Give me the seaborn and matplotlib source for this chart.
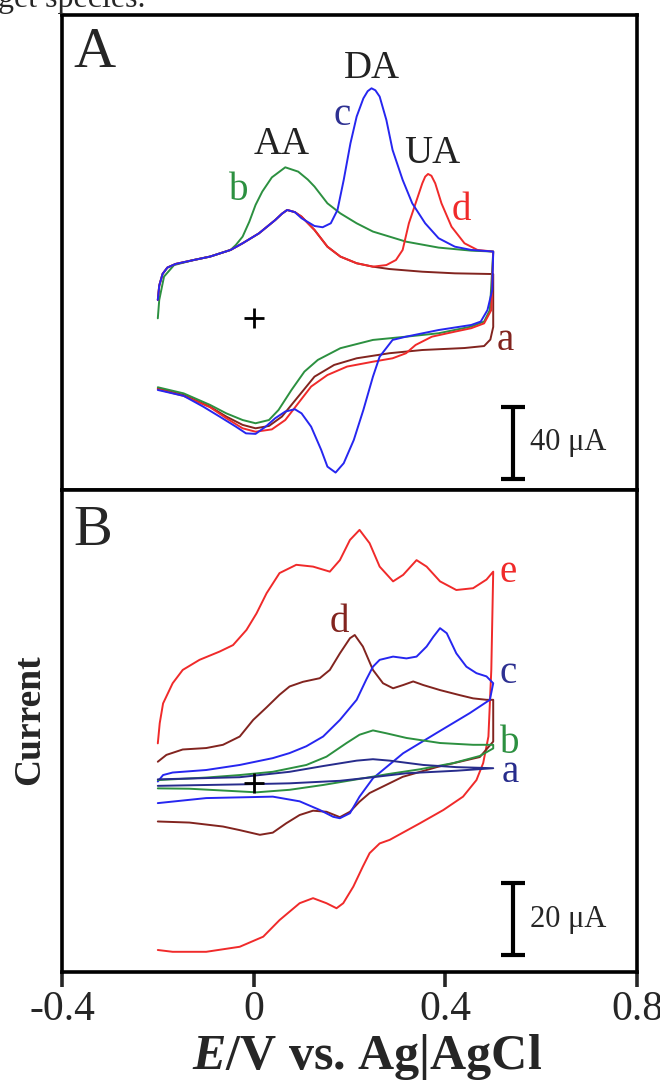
import pandas as pd
import seaborn as sns
import matplotlib
matplotlib.use('Agg')
import matplotlib.pyplot as plt

# ---- Panel A: CVs, potential E (V) and current I (uA); forward scan then reverse scan ----
A_a_E = [-0.200, -0.197, -0.190, -0.180, -0.163, -0.125, -0.091, -0.048, -0.023, 0.011, 0.045, 0.059, 0.070, 0.086,
         0.100, 0.127, 0.154, 0.181, 0.215, 0.249, 0.283, 0.352, 0.420, 0.500,
         0.500, 0.494, 0.481, 0.440, 0.352, 0.283, 0.215, 0.168, 0.127, 0.093, 0.059, 0.032, 0.004, -0.023, -0.057,
         -0.091, -0.146, -0.200]
A_a_I = [10.0, 18.0, 24.5, 28.0, 30.0, 32.2, 34.1, 37.8, 41.5, 47.0, 54.4, 57.9, 60.0, 58.8,
         56.3, 48.9, 39.6, 34.1, 30.4, 28.5, 27.2, 25.7, 24.8, 24.4,
         -5.0, -12.0, -15.6, -16.7, -17.8, -19.6, -22.4, -26.1, -32.6, -43.7, -54.8, -60.0, -61.3, -59.4, -54.8,
         -49.3, -42.8, -39.1]

A_b_E = [-0.200, -0.197, -0.187, -0.166, -0.125, -0.091, -0.048, -0.037, -0.023, -0.009, 0.004, 0.018, 0.038, 0.066,
         0.093, 0.113, 0.127, 0.154, 0.181, 0.215, 0.249, 0.318, 0.386, 0.454, 0.500,
         0.493, 0.481, 0.454, 0.386, 0.318, 0.249, 0.181, 0.134, 0.106, 0.079, 0.052, 0.032, 0.004, -0.023, -0.057,
         -0.091, -0.146, -0.200]
A_b_I = [-0.2, 10.0, 23.0, 29.4, 32.2, 34.1, 37.8, 40.6, 45.2, 53.5, 62.8, 70.2, 78.1, 83.7,
         81.3, 76.9, 73.0, 63.7, 58.1, 52.6, 48.0, 42.4, 39.1, 37.4, 36.9,
         4.4, -2.0, -4.8, -8.5, -10.4, -12.2, -16.8, -23.3, -29.8, -40.0, -51.1, -56.7, -58.5, -56.7, -53.0,
         -48.3, -41.9, -38.5]

A_c_E = [-0.200, -0.197, -0.190, -0.180, -0.163, -0.125, -0.091, -0.048, -0.023, 0.011, 0.045, 0.059, 0.070, 0.086,
         0.100, 0.127, 0.144, 0.161, 0.175, 0.188, 0.202, 0.215, 0.229, 0.238, 0.246, 0.254, 0.263, 0.277, 0.290,
         0.311, 0.331, 0.358, 0.386, 0.420, 0.454, 0.500,
         0.498, 0.488, 0.474, 0.454, 0.386, 0.318, 0.290, 0.263, 0.249, 0.229, 0.209, 0.188, 0.171, 0.154, 0.141,
         0.120, 0.100, 0.086, 0.066, 0.045, 0.025, 0.004, -0.016, -0.037, -0.071, -0.105, -0.146, -0.200]
A_c_I = [10.0, 18.0, 24.5, 28.0, 30.0, 32.2, 34.1, 37.8, 41.5, 47.0, 54.4, 57.9, 60.0, 58.8,
         55.4, 51.1, 50.4, 52.6, 60.0, 76.7, 97.0, 111.9, 122.0, 126.0, 127.6, 126.5, 123.0, 110.0, 93.3,
         76.7, 63.7, 52.6, 44.3, 39.6, 37.8, 36.9,
         15.6, 4.4, -2.0, -3.9, -6.7, -10.4, -12.2, -21.5, -32.6, -51.1, -67.8, -80.7, -85.9, -82.6, -73.3,
         -60.4, -53.0, -50.7, -52.0, -55.7, -60.4, -64.4, -64.1, -60.4, -54.8, -49.3, -43.3, -40.0]

A_d_E = [-0.200, -0.197, -0.190, -0.180, -0.163, -0.125, -0.091, -0.048, -0.023, 0.011, 0.045, 0.059, 0.070, 0.086,
         0.100, 0.127, 0.154, 0.181, 0.215, 0.249, 0.277, 0.297, 0.311, 0.324, 0.338, 0.352, 0.358, 0.364, 0.371,
         0.379, 0.392, 0.413, 0.440, 0.467, 0.500,
         0.496, 0.481, 0.454, 0.420, 0.372, 0.338, 0.318, 0.290, 0.249, 0.195, 0.154, 0.120, 0.093, 0.066, 0.038,
         0.004, -0.023, -0.057, -0.091, -0.146, -0.200]
A_d_I = [10.0, 18.0, 24.5, 28.0, 30.0, 32.2, 34.1, 37.8, 41.5, 47.0, 54.4, 57.9, 60.0, 58.8,
         56.3, 48.9, 39.6, 34.1, 30.4, 28.5, 29.4, 32.2, 37.8, 52.6, 63.7, 74.8, 78.5, 80.0, 79.0,
         74.8, 63.7, 50.7, 41.5, 37.8, 36.9,
         4.4, -3.0, -5.7, -7.6, -10.4, -15.0, -19.6, -22.4, -24.3, -27.0, -31.7, -38.1, -47.4, -56.7, -61.9,
         -63.2, -61.3, -55.7, -49.6, -43.3, -39.6]

# ---- Panel B ----
B_a_E = [-0.200, -0.029, 0.075, 0.145, 0.215, 0.249, 0.284, 0.354, 0.423, 0.500,
         0.423, 0.319, 0.249, 0.180, 0.075, -0.029, -0.200]
B_a_I = [1.0, 1.6, 3.1, 4.7, 6.2, 6.6, 6.2, 5.0, 4.4, 4.1,
         3.4, 2.7, 1.6, 0.6, -0.1, -0.4, -0.8]

B_b_E = [-0.200, -0.099, -0.029, 0.040, 0.110, 0.152, 0.194, 0.221, 0.249, 0.277, 0.319, 0.389, 0.458, 0.500,
         0.500, 0.472, 0.416, 0.347, 0.277, 0.249, 0.145, 0.075, 0.006, -0.064, -0.134, -0.200]
B_b_I = [0.8, 1.5, 2.2, 3.1, 5.0, 7.3, 11.1, 13.4, 14.6, 13.8, 12.5, 11.1, 10.6, 10.6,
         9.6, 7.5, 5.5, 3.8, 2.4, 1.75, -0.56, -1.9, -2.6, -2.1, -1.6, -1.5]

B_c_E = [-0.200, -0.189, -0.169, -0.099, -0.029, 0.040, 0.075, 0.110, 0.145, 0.180, 0.215, 0.235, 0.249, 0.263,
         0.291, 0.319, 0.340, 0.361, 0.375, 0.389, 0.403, 0.423, 0.444, 0.465, 0.486, 0.500,
         0.493, 0.451, 0.382, 0.312, 0.249, 0.221, 0.201, 0.180, 0.166, 0.138, 0.096, 0.040, -0.099, -0.200]
B_c_I = [0.4, 2.2, 2.9, 3.6, 5.0, 6.9, 8.3, 10.2, 12.9, 17.5, 23.1, 28.7, 32.3, 34.2,
         35.1, 34.6, 35.1, 37.9, 40.6, 43.0, 41.6, 36.0, 32.3, 30.5, 29.6, 27.7,
         23.1, 19.4, 13.9, 8.25, 1.3, -3.8, -8.4, -9.8, -9.4, -7.5, -5.1, -3.8, -4.2, -5.6]

B_d_E = [-0.200, -0.182, -0.148, -0.099, -0.064, -0.029, -0.001, 0.027, 0.054, 0.075, 0.103, 0.138, 0.159, 0.180,
         0.201, 0.211, 0.228, 0.249, 0.270, 0.291, 0.312, 0.333, 0.354, 0.389, 0.430, 0.458, 0.486, 0.500,
         0.500, 0.472, 0.382, 0.311, 0.242, 0.221, 0.201, 0.180, 0.152, 0.124, 0.096, 0.068, 0.040, 0.013,
         -0.029, -0.064, -0.134, -0.200]
B_d_I = [5.9, 7.8, 9.3, 9.7, 10.6, 12.9, 17.5, 21.0, 24.5, 26.8, 28.1, 29.1, 31.4, 36.0,
         40.2, 41.1, 37.9, 31.4, 27.7, 26.3, 27.2, 28.2, 27.2, 25.8, 24.4, 23.5, 23.1, 23.1,
         11.5, 7.2, 4.4, 1.7, -2.8, -5.2, -8.0, -9.5, -8.0, -7.7, -8.9, -11.2, -13.8, -14.4,
         -13.1, -12.1, -11.0, -10.7]

B_e_E = [-0.200, -0.196, -0.189, -0.169, -0.148, -0.113, -0.071, -0.043, -0.015, 0.006, 0.027, 0.054, 0.089, 0.124,
         0.159, 0.180, 0.201, 0.221, 0.242, 0.263, 0.291, 0.312, 0.340, 0.361, 0.389, 0.423, 0.458, 0.486, 0.500,
         0.496, 0.490, 0.479, 0.465, 0.437, 0.396, 0.347, 0.284, 0.263, 0.242, 0.228, 0.208, 0.187, 0.173, 0.152,
         0.124, 0.096, 0.054, 0.020, -0.029, -0.099, -0.169, -0.200]
B_e_I = [11.0, 16.6, 22.1, 27.7, 31.4, 34.2, 36.5, 38.3, 42.5, 47.1, 52.7, 58.3, 60.6, 60.1,
         58.7, 61.9, 67.5, 70.3, 66.6, 60.1, 56.0, 57.8, 61.9, 60.1, 56.0, 53.6, 54.1, 56.5, 58.7,
         31.4, 12.9, 5.5, 0.8, -3.8, -7.5, -11.2, -15.8, -16.8, -19.5, -23.2, -28.8, -33.4, -34.8, -33.4,
         -32.0, -33.4, -38.1, -42.7, -45.5, -46.9, -46.9, -46.4]

x_ticks = [-0.4, 0, 0.4, 0.8]
x_ticklabels = ['-0.4', '0', '0.4', '0.8']
scale_A = 40   # uA
scale_B = 20   # uA

BROWN = '#82241f'
GREEN = '#2c9040'
BLUE = '#2626f0'
RED = '#f02a2a'
NAVY = '#272c8c'
LABEL_BLUE = '#2e3192'


def make_frame(curves):
    parts = [pd.DataFrame({'E': E, 'I': I, 'curve': name}) for name, (E, I) in curves.items()]
    return pd.concat(parts, ignore_index=True)


def draw_scale_bar(ax, x, y_bottom, length, text):
    ax.plot([x, x], [y_bottom, y_bottom + length], color='black', lw=3, solid_capstyle='butt')
    for yy in (y_bottom, y_bottom + length):
        ax.plot([x - 0.025, x + 0.025], [yy, yy], color='black', lw=3, solid_capstyle='butt')
    ax.text(x + 0.035, y_bottom + length / 2, text, fontsize=22, ha='left', va='center')


sns.set_style('white')
plt.rcParams['font.family'] = ['Liberation Serif', 'DejaVu Serif']
plt.rcParams['mathtext.fontset'] = 'custom'
plt.rcParams['mathtext.it'] = 'Liberation Serif:italic:bold'
plt.rcParams['mathtext.rm'] = 'Liberation Serif:bold'

fig = plt.figure(figsize=(6.6, 10.82), dpi=100)
axA = fig.add_axes([0.0939, 0.5471, 0.8712, 0.4390])
axB = fig.add_axes([0.0939, 0.1017, 0.8712, 0.4455])

# panel A curves
dfA = make_frame({'a': (A_a_E, A_a_I), 'b': (A_b_E, A_b_I), 'd': (A_d_E, A_d_I), 'c': (A_c_E, A_c_I)})
sns.lineplot(data=dfA, x='E', y='I', hue='curve', hue_order=['a', 'b', 'd', 'c'],
             palette={'a': BROWN, 'b': GREEN, 'c': BLUE, 'd': RED},
             sort=False, estimator=None, legend=False, lw=1.4, ax=axA)

# panel B curves
dfB = make_frame({'e': (B_e_E, B_e_I), 'd': (B_d_E, B_d_I), 'c': (B_c_E, B_c_I),
                  'b': (B_b_E, B_b_I), 'a': (B_a_E, B_a_I)})
sns.lineplot(data=dfB, x='E', y='I', hue='curve', hue_order=['e', 'd', 'c', 'b', 'a'],
             palette={'a': NAVY, 'b': GREEN, 'c': BLUE, 'd': BROWN, 'e': RED},
             sort=False, estimator=None, legend=False, lw=1.4, ax=axB)

for ax in (axA, axB):
    ax.set_xlim(-0.4, 0.8)
    ax.set_yticks([])
    ax.set_xlabel('')
    ax.set_ylabel('')
    for sp in ax.spines.values():
        sp.set_visible(True)
        sp.set_color('black')
        sp.set_linewidth(2.6)
    for line in ax.get_lines():
        line.set_solid_joinstyle('round')
    # origin marker
    ax.plot([0], [0], marker='+', color='black', markersize=14, mew=2)

axA.set_ylim(-95.6, 168.3)
axB.set_ylim(-52.5, 81.4)
axA.set_xticks([])
axB.set_xticks(x_ticks)
axB.set_xticklabels(x_ticklabels)
axB.tick_params(axis='x', direction='out', length=11, width=2.6, labelsize=30, pad=2, bottom=True)

# panel letters
axA.text(0.02, 0.89, 'A', transform=axA.transAxes, fontsize=42, va='baseline')
axB.text(0.02, 0.886, 'B', transform=axB.transAxes, fontsize=42, va='baseline')

# panel A annotations
for s, x, y, c in [('DA', 0.247, 133.3, '#222222'), ('AA', 0.059, 91.1, '#222222'),
                   ('UA', 0.372, 86.1, '#222222'), ('c', 0.184, 107.2, LABEL_BLUE),
                   ('b', -0.031, 65.6, GREEN), ('d', 0.433, 54.4, RED), ('a', 0.525, -17.8, BROWN)]:
    axA.text(x, y, s, color=c, fontsize=28, ha='center', va='baseline')

# panel B annotations
for s, x, y, c in [('d', 0.178, 41.9, BROWN), ('e', 0.531, 55.8, RED), ('c', 0.531, 27.8, LABEL_BLUE),
                   ('b', 0.535, 8.3, GREEN), ('a', 0.535, 0.3, NAVY)]:
    axB.text(x, y, s, color=c, fontsize=28, ha='center', va='baseline')

draw_scale_bar(axA, 0.5417, -89.4, scale_A, '40 μA')
draw_scale_bar(axB, 0.5417, -47.8, scale_B, '20 μA')

fig.text(30 / 660, 1 - 720 / 1082, 'Current', rotation=90, fontsize=27, fontweight='bold',
         ha='center', va='center')
fig.text(367 / 660, 1 - 1069 / 1082, r'$\mathit{E}$/V vs. Ag|AgCl', fontsize=36, fontweight='bold',
         ha='center', va='baseline')
fig.text(-0.003, 1 - 7 / 1082, 'get species.', fontsize=23, ha='left', va='baseline')

fig.savefig('out.png', dpi=100)
